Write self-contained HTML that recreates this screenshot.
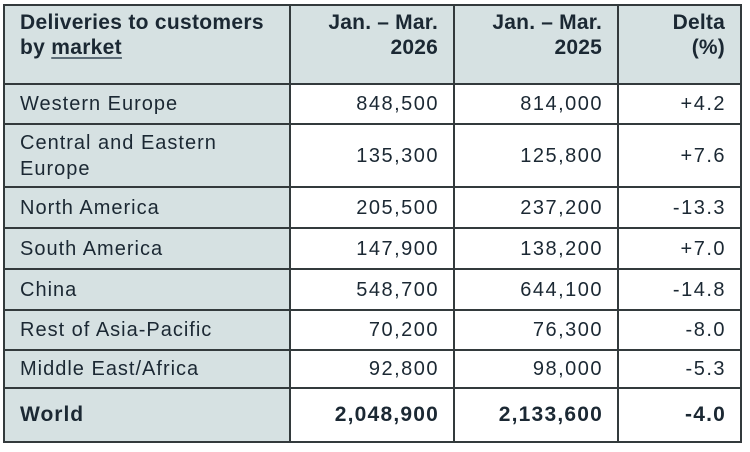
<!DOCTYPE html>
<html><head><meta charset="utf-8"><style>
html,body{margin:0;padding:0;background:#fff;}
body{width:750px;height:452px;position:relative;overflow:hidden;font-family:"Liberation Sans",sans-serif;color:#1b2833;}
.bg{position:absolute;background:#d6e1e2;}
.h{position:absolute;background:#333a3c;height:2px;}
.v{position:absolute;background:#333a3c;width:2px;}
.c{position:absolute;display:flex;align-items:center;box-sizing:border-box;padding:0 16px;font-size:20px;letter-spacing:1px;line-height:26px;white-space:nowrap;}
.c>div{width:100%;}
.n{justify-content:flex-end;letter-spacing:1.5px;padding-right:15px;text-align:right;}
.hd{align-items:flex-start;font-weight:bold;font-size:21px;letter-spacing:0.3px;line-height:25px;padding-top:5px;}
.hd.n{letter-spacing:0.2px;padding-right:16px;}
.w{font-weight:bold;font-size:21px;}
.w.n{letter-spacing:1.2px;}
u{text-decoration-thickness:1.5px;text-underline-offset:3px;text-decoration-color:#5d6d78;}
</style></head><body>
<div class="bg" style="left:4px;top:5px;width:737px;height:79px;"></div>
<div class="bg" style="left:4px;top:5px;width:286px;height:437px;"></div>

<div class="h" style="left:3px;width:739px;top:4px;"></div>
<div class="h" style="left:3px;width:739px;top:83px;"></div>
<div class="h" style="left:3px;width:739px;top:123px;"></div>
<div class="h" style="left:3px;width:739px;top:186px;"></div>
<div class="h" style="left:3px;width:739px;top:227px;"></div>
<div class="h" style="left:3px;width:739px;top:268px;"></div>
<div class="h" style="left:3px;width:739px;top:309px;"></div>
<div class="h" style="left:3px;width:739px;top:349px;"></div>
<div class="h" style="left:3px;width:739px;top:387px;"></div>
<div class="h" style="left:3px;width:739px;top:441px;"></div>
<div class="v" style="top:4px;height:439px;left:3px;"></div>
<div class="v" style="top:4px;height:439px;left:289px;"></div>
<div class="v" style="top:4px;height:439px;left:453px;"></div>
<div class="v" style="top:4px;height:439px;left:617px;"></div>
<div class="v" style="top:4px;height:439px;left:740px;"></div>

<div class="c hd" style="left:4px;width:286px;top:5px;height:79px;"><div>Deliveries to customers<br>by <u>market</u></div></div>
<div class="c hd n" style="left:290px;width:164px;top:5px;height:79px;"><div>Jan. – Mar.<br>2026</div></div>
<div class="c hd n" style="left:454px;width:164px;top:5px;height:79px;"><div>Jan. – Mar.<br>2025</div></div>
<div class="c hd n" style="left:618px;width:123px;top:5px;height:79px;"><div>Delta<br>(%)</div></div>

<div class="c" style="left:4px;width:286px;top:84px;height:40px;"><div>Western Europe</div></div>
<div class="c n" style="left:290px;width:164px;top:84px;height:40px;"><div>848,500</div></div>
<div class="c n" style="left:454px;width:164px;top:84px;height:40px;"><div>814,000</div></div>
<div class="c n" style="left:618px;width:123px;top:84px;height:40px;"><div>+4.2</div></div>

<div class="c" style="left:4px;width:286px;top:124px;height:63px;"><div>Central and Eastern<br>Europe</div></div>
<div class="c n" style="left:290px;width:164px;top:124px;height:63px;"><div>135,300</div></div>
<div class="c n" style="left:454px;width:164px;top:124px;height:63px;"><div>125,800</div></div>
<div class="c n" style="left:618px;width:123px;top:124px;height:63px;"><div>+7.6</div></div>

<div class="c" style="left:4px;width:286px;top:187px;height:41px;"><div>North America</div></div>
<div class="c n" style="left:290px;width:164px;top:187px;height:41px;"><div>205,500</div></div>
<div class="c n" style="left:454px;width:164px;top:187px;height:41px;"><div>237,200</div></div>
<div class="c n" style="left:618px;width:123px;top:187px;height:41px;"><div>-13.3</div></div>

<div class="c" style="left:4px;width:286px;top:228px;height:41px;"><div>South America</div></div>
<div class="c n" style="left:290px;width:164px;top:228px;height:41px;"><div>147,900</div></div>
<div class="c n" style="left:454px;width:164px;top:228px;height:41px;"><div>138,200</div></div>
<div class="c n" style="left:618px;width:123px;top:228px;height:41px;"><div>+7.0</div></div>

<div class="c" style="left:4px;width:286px;top:269px;height:41px;"><div>China</div></div>
<div class="c n" style="left:290px;width:164px;top:269px;height:41px;"><div>548,700</div></div>
<div class="c n" style="left:454px;width:164px;top:269px;height:41px;"><div>644,100</div></div>
<div class="c n" style="left:618px;width:123px;top:269px;height:41px;"><div>-14.8</div></div>

<div class="c" style="left:4px;width:286px;top:310px;height:40px;"><div>Rest of Asia-Pacific</div></div>
<div class="c n" style="left:290px;width:164px;top:310px;height:40px;"><div>70,200</div></div>
<div class="c n" style="left:454px;width:164px;top:310px;height:40px;"><div>76,300</div></div>
<div class="c n" style="left:618px;width:123px;top:310px;height:40px;"><div>-8.0</div></div>

<div class="c" style="left:4px;width:286px;top:350px;height:38px;"><div>Middle East/Africa</div></div>
<div class="c n" style="left:290px;width:164px;top:350px;height:38px;"><div>92,800</div></div>
<div class="c n" style="left:454px;width:164px;top:350px;height:38px;"><div>98,000</div></div>
<div class="c n" style="left:618px;width:123px;top:350px;height:38px;"><div>-5.3</div></div>

<div class="c w" style="left:4px;width:286px;top:388px;height:54px;"><div>World</div></div>
<div class="c n w" style="left:290px;width:164px;top:388px;height:54px;"><div>2,048,900</div></div>
<div class="c n w" style="left:454px;width:164px;top:388px;height:54px;"><div>2,133,600</div></div>
<div class="c n w" style="left:618px;width:123px;top:388px;height:54px;"><div>-4.0</div></div>
</body></html>
